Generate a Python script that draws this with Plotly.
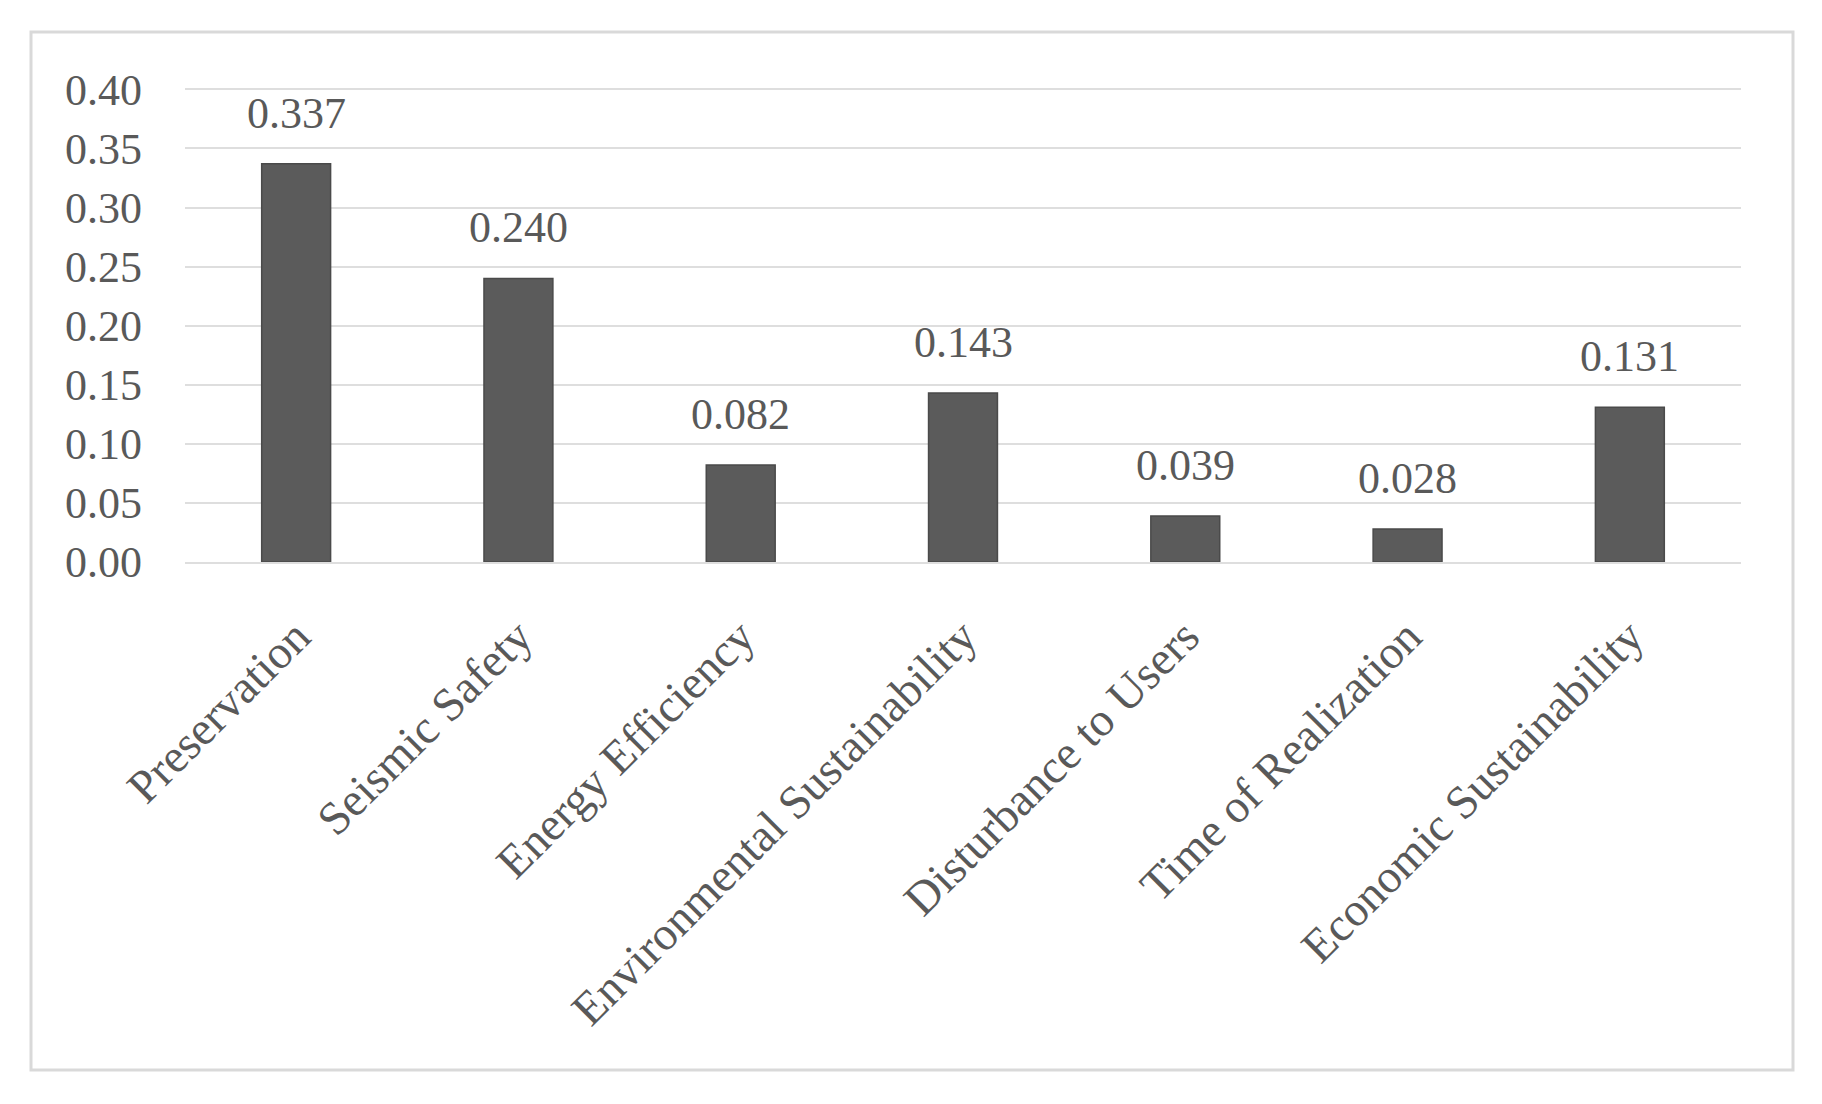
import plotly.graph_objs as go

categories = ['Preservation', 'Seismic Safety', 'Energy Efficiency',
              'Environmental Sustainability', 'Disturbance to Users',
              'Time of Realization', 'Economic Sustainability']
weights = [0.337, 0.240, 0.082, 0.143, 0.039, 0.028, 0.131]
tick_vals = [0.00, 0.05, 0.10, 0.15, 0.20, 0.25, 0.30, 0.35, 0.40]
tick_text = ['0.00', '0.05', '0.10', '0.15', '0.20', '0.25', '0.30', '0.35', '0.40']

# the page body adds an 8px margin, so the figure is drawn smaller and offset
PAD = 8
W, H = 1822 - 2 * PAD, 1104 - 2 * PAD
# plot area in pixels (figure coords)
L, R, T, B = 185 - PAD, 1741 - PAD, 88 - PAD, 562 - PAD
# outer frame in pixels
FL, FR, FT, FB = 31 - PAD, 1793 - PAD, 32 - PAD, 1070 - PAD

font_family = 'Liberation Serif, DejaVu Serif, serif'
text_color = '#595959'
grid_color = '#dedede'

def px_to_paper_x(px):
    return (px - L) / (R - L)

def px_to_paper_y(py):
    return (B - py) / (B - T)

fig = go.Figure()
fig.add_trace(go.Bar(
    x=categories, y=weights,
    marker=dict(color='#5b5b5b', line=dict(color='#4a4a4a', width=1.5)),
    hoverinfo='x+y',
    showlegend=False))

for cat, val in zip(categories, weights):
    fig.add_annotation(x=cat, y=val, text=f'{val:.3f}', showarrow=False,
                       yanchor='bottom', yshift=24,
                       font=dict(family=font_family, size=44, color=text_color))

fig.add_shape(type='rect', xref='paper', yref='paper',
              x0=px_to_paper_x(FL), x1=px_to_paper_x(FR),
              y0=px_to_paper_y(FB), y1=px_to_paper_y(FT),
              line=dict(color='#d9d9d9', width=3), layer='below')

fig.update_layout(
    width=W, height=H,
    margin=dict(l=L, r=W - R, t=T, b=H - B),
    paper_bgcolor='white', plot_bgcolor='white',
    bargap=0.69,
    font=dict(family=font_family, size=43, color=text_color),
    xaxis=dict(tickangle=-45, showgrid=False, showline=True,
               linecolor=grid_color, linewidth=2, ticks='',
               ticklabelstandoff=26,
               tickfont=dict(family=font_family, size=47, color=text_color)),
    yaxis=dict(range=[0, 0.4012], tickvals=tick_vals, ticktext=tick_text,
               showgrid=True, gridcolor=grid_color, gridwidth=2,
               zeroline=False, showline=False, ticks='',
               ticklabelstandoff=42,
               tickfont=dict(family=font_family, size=44, color=text_color)),
)

fig.write_html('out.html')
